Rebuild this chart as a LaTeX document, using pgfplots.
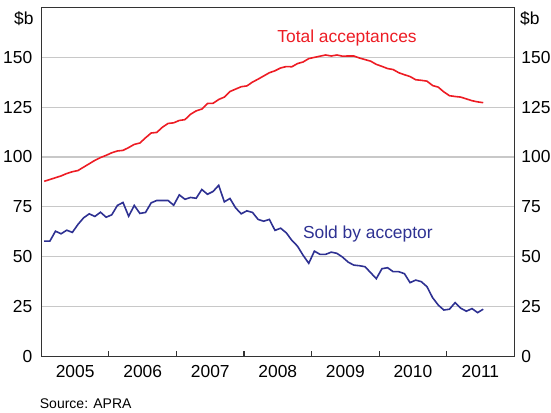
\documentclass[border=0pt]{standalone}
\usepackage{pgfplots}
\pgfplotsset{compat=1.18}
\usepackage{fontspec}
\setmainfont{Liberation Sans}
\definecolor{rbared}{HTML}{ED1C24}
\definecolor{rbablue}{HTML}{2E3192}
\definecolor{gridgrey}{HTML}{C8C8C8}
\definecolor{framegrey}{HTML}{333333}
\newcommand{\lab}{\fontsize{17.4}{20}\selectfont}

% month index 0 = Jan 2005
\pgfplotstableread{
m v
0 87.8
1 88.7
2 89.6
3 90.5
4 91.7
5 92.6
6 93.2
7 94.9
8 96.6
9 98.3
10 99.7
11 100.8
12 102.1
13 103.0
14 103.3
15 104.7
16 106.3
17 107.0
18 109.6
19 112.0
20 112.3
21 114.9
22 116.8
23 117.1
24 118.3
25 118.7
26 121.4
27 123.1
28 124.0
29 126.8
30 126.9
31 128.8
32 130.0
33 132.8
34 134.0
35 135.2
36 135.6
37 137.5
38 139.0
39 140.6
40 142.2
41 143.2
42 144.6
43 145.3
44 145.2
45 146.8
46 147.6
47 149.3
48 149.9
49 150.5
50 151.1
51 150.6
52 151.1
53 150.5
54 150.6
55 150.6
56 149.6
57 148.8
58 148.0
59 146.4
60 145.4
61 144.3
62 143.8
63 142.2
64 141.2
65 140.3
66 138.7
67 138.4
68 138.0
69 135.8
70 135.0
71 132.6
72 130.7
73 130.3
74 130.0
75 129.1
76 128.2
77 127.6
78 127.2
}\totaltable

\pgfplotstableread{
m v
0 57.8
1 57.8
2 62.8
3 61.5
4 63.3
5 62.2
6 66.2
7 69.5
8 71.5
9 70.2
10 72.3
11 69.8
12 71.0
13 75.7
14 77.2
15 70.3
16 75.7
17 71.7
18 72.2
19 77.0
20 78.2
21 78.2
22 78.2
23 75.8
24 81.0
25 78.8
26 79.7
27 79.3
28 83.7
29 81.3
30 82.7
31 85.8
32 77.5
33 79.2
34 74.5
35 71.5
36 73.0
37 72.2
38 68.7
39 67.8
40 68.7
41 63.2
42 64.3
43 62.0
44 58.2
45 55.3
46 50.7
47 46.7
48 52.8
49 51.2
50 51.2
51 52.3
52 51.7
53 49.8
54 47.3
55 45.8
56 45.5
57 45.0
58 42.0
59 39.0
60 44.0
61 44.5
62 42.5
63 42.5
64 41.5
65 37.0
66 38.3
67 37.5
68 35.0
69 29.5
70 25.8
71 23.3
72 23.7
73 27.0
74 24.2
75 22.7
76 24.0
77 22.0
78 23.7
}\soldtable

\begin{document}
\begin{tikzpicture}
\useasboundingbox (0pt,0pt) rectangle (551pt,-412pt);
\begin{axis}[
  at={(41.4pt,-356.5pt)}, anchor=south west,
  scale only axis, width=472.8pt, height=349.2pt,
  xmin=-0.5, xmax=83.5, ymin=0, ymax=175,
  axis line style={framegrey, line width=1.2pt},
  ytick={0,25,...,150},
  ymajorgrids, grid style={gridgrey, line width=1.1pt},
  xtick={5.5,17.5,...,77.5},
  xticklabels={2005,2006,2007,2008,2009,2010,2011},
  minor xtick={11.5,23.5,...,71.5},
  major tick length=0pt, minor tick length=6pt,
  tick align=inside, xtick pos=left,
  minor tick style={framegrey, line width=1.1pt},
  tick label style={font=\lab, /pgf/number format/assume math mode=true},
  yticklabel style={inner sep=0pt, xshift=-9pt},
  xticklabel style={inner sep=0pt, yshift=-9pt},
  clip=false,
]
\addplot[rbared, line width=1.6pt] table[x=m, y=v] {\totaltable};
\addplot[rbablue, line width=1.6pt] table[x=m, y=v] {\soldtable};
\node[rbared, anchor=base, font=\lab] at (axis cs:53.8,157.5) {Total acceptances};
\node[rbablue, anchor=base, font=\lab] at (axis cs:57.5,59.2) {Sold by acceptor};
\end{axis}
\begin{axis}[
  at={(41.4pt,-356.5pt)}, anchor=south west,
  scale only axis, width=472.8pt, height=349.2pt,
  xmin=-0.5, xmax=83.5, ymin=0, ymax=175,
  axis line style={draw=none},
  ytick={0,25,...,150}, yticklabel pos=right,
  xtick=\empty, major tick length=0pt,
  tick label style={font=\lab, /pgf/number format/assume math mode=true},
  yticklabel style={inner sep=0pt, xshift=7pt},
]
\end{axis}
\node[anchor=base east, font=\lab, inner sep=0pt] at (33.7pt,-25pt) {\$b};
\node[anchor=base west, font=\lab, inner sep=0pt] at (520pt,-25pt) {\$b};
\node[anchor=base west, font=\fontsize{14}{16}\selectfont, inner sep=0pt] at (39.7pt,-408pt) {Source: APRA};
\end{tikzpicture}
\end{document}
